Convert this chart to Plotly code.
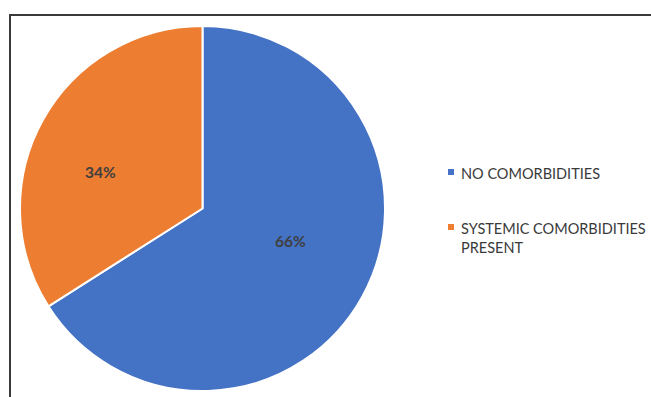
import plotly.graph_objects as go

labels = ["NO COMORBIDITIES", "SYSTEMIC COMORBIDITIES PRESENT"]
legend_text = ["NO COMORBIDITIES", "SYSTEMIC COMORBIDITIES<br>PRESENT"]
values = [66, 34]
colors = ["#4472C4", "#ED7D31"]

W, H = 651, 397


def px(x):
    return x / W


def py(y):
    return (H - y) / H


fig = go.Figure()
fig.add_trace(go.Pie(
    labels=labels,
    values=values,
    sort=False,
    direction="clockwise",
    rotation=0,
    marker=dict(colors=colors, line=dict(color="white", width=2)),
    textinfo="none",
    domain=dict(x=[px(20), px(385)], y=[py(392), py(25)]),
    showlegend=False,
    hoverinfo="label+percent",
))

# percentage labels
total = sum(values)
lab_pos = [(290, 241), (100, 172)]
for v, (x, y) in zip(values, lab_pos):
    fig.add_annotation(xref="paper", yref="paper", x=px(x), y=py(y),
                       xanchor="center", yanchor="middle", showarrow=False,
                       text=f"{round(100 * v / total)}%",
                       font=dict(family="Lato", size=15.5, color="#404040", weight="bold"))

# legend drawn as small squares + text
leg_y = [172, 227]
for i, (t, c) in enumerate(zip(legend_text, colors)):
    y = leg_y[i]
    fig.add_shape(type="rect", xref="paper", yref="paper",
                  x0=px(448), x1=px(454), y0=py(y + 3), y1=py(y - 3),
                  line=dict(width=0), fillcolor=c)
    fig.add_annotation(xref="paper", yref="paper", x=px(459), y=py(y - 9),
                       xanchor="left", yanchor="top", align="left", showarrow=False,
                       text=t, font=dict(family="Lato", size=14.5, color="#3a3a3a"))

# chart border (only top and left visible in crop)
fig.add_shape(type="rect", xref="paper", yref="paper",
              x0=px(10), x1=1.05, y0=-0.05, y1=py(15),
              line=dict(color="#3a3a3a", width=2), fillcolor="rgba(0,0,0,0)")

fig.update_layout(
    width=W, height=H,
    margin=dict(l=0, r=0, t=0, b=0),
    paper_bgcolor="white", plot_bgcolor="white",
)

fig.write_html(
    "out.html",
    config={"displayModeBar": False},
    post_script="document.body.style.margin='0';document.body.style.overflow='hidden';",
)
